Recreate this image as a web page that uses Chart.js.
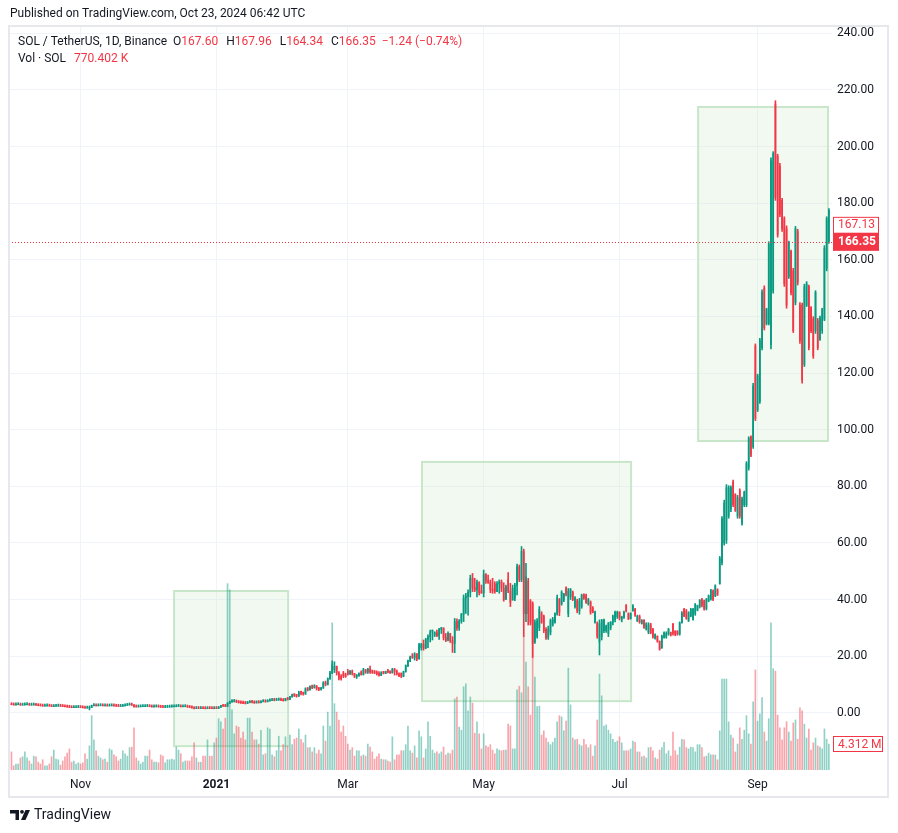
<!DOCTYPE html>
<html>
<head>
<meta charset="utf-8">
<script src="https://cdn.jsdelivr.net/npm/chart.js@4.4.1/dist/chart.umd.min.js"></script>
<style>
  html, body { margin: 0; padding: 0; background: #fff; }
  canvas { display: block; }
</style>
</head>
<body>
<canvas id="chart" width="898" height="833"></canvas>
<script>
// SOL / TetherUS daily candles, one entry per day starting at firstDay
const firstDay = '2020-10-01';

const opens = [
  3.0,2.85,2.75,2.85,2.9,2.7,2.75,2.85,2.9,2.7, 2.75,2.85,2.65,2.5,2.45,2.35,2.4,2.45,2.35,2.2,
  2.3,2.35,2.4,2.3,2.2,2.1,2.0,1.9,1.8,1.85, 1.9,1.95,1.85,1.75,1.65,1.7,1.85,2.5,2.6,2.45,
  2.5,2.55,2.45,2.5,2.4,2.45,2.5,2.4,2.3,2.25, 2.3,2.45,2.6,2.75,2.85,2.7,2.15,2.05,2.1,2.15,
  2.2,2.25,2.3,2.15,2.05,2.1,2.15,2.05,1.95,1.9, 1.95,2.0,2.05,2.1,2.15,2.25,2.3,2.1,2.15,2.2,
  2.0,1.85,1.7,1.5,1.6,1.5,1.6,1.5,1.45,1.6, 1.5,1.45,1.55,1.5,
  1.9,2.4,2.3,2.25,3.3,3.9,4.0,4.1,3.8,3.6, 3.5,3.4,3.3,3.6,3.9,3.7,3.5,3.7,3.6,3.9,
  4.0,3.9,4.2,4.4,4.5,4.4,4.5,4.7,4.5,4.3, 4.9,4.7,5.6,6.3,6.0,5.8,7.2,6.9,6.6,8.4,
  8.1,9.2,8.8,9.5,8.6,8.2,8.7,10.5,10.0,12.0, 14.0,15.2,16.4,14.0,12.2,13.8,13.1,14.6,13.6,14.6,
  13.9,12.8,13.0,13.8,13.5,15.2,14.3,15.4,14.4,14.2, 14.0,13.6,13.2,14.1,13.9,14.5,14.3,14.1,15.3,14.6,
  13.7,
  13.9,12.9,14.4,16.6,18.3,19.7,19.4,20.8,19.0,23.0, 24.2,22.8,25.9,26.8,28.5,27.5,28.3,27.2,29.4,29.9,
  26.5,25.6,28.0,25.5,24.5,32.2,30.0,32.4,34.7,40.5, 41.0,42.5,47.5,44.0,43.5,46.0,42.5,42.3,48.8,46.8,
  46.0,43.5,45.5,42.8,45.5,46.2,44.0,40.0,47.0,43.0, 39.8,40.5,45.0,51.5,47.0,57.0,35.0,46.5,39.5,38.5,
  25.0,27.0,30.0,35.0,34.0,29.5,26.5,28.5,31.0,32.0, 35.0,40.0,38.5,40.0,44.0,35.0,41.0,42.5,37.5,39.5,
  36.0,37.5,41.8,41.5,38.5,39.0,37.0,32.0,31.5,25.0, 27.0,29.0,29.0,28.0,30.0,32.0,33.0,34.0,35.5,33.0,
  33.8,38.0,35.0,33.2,36.0,36.5,32.5,34.0,31.5,32.6, 29.5,28.5,31.0,29.5,26.3,27.0,25.2,23.0,26.5,26.8,
  27.8,28.3,31.2,28.8,28.8,27.8,31.8,36.5,36.0,32.6, 34.2,33.0,35.0,36.3,37.5,40.0,39.5,36.8,39.5,40.2,
  43.0,41.3,43.5,45.6,53.0,60.0,61.0,69.5,72.0,81.5, 77.0,69.5,78.5,67.0,73.5,73.5,86.5,97.5,94.0,129.5,
  107.0,110.0,129.0,150.0,137.5,137.5,130.0,149.0,215.0,196.5, 193.0,181.0,174.5,171.0,154.0,163.0,156.0,145.0,170.0,144.0,
  144.0,123.0,144.0,150.5,143.0,139.0,135.0,138.5,132.0,135.0, 139.0,157.0,166.5
];

const highs = [
  3.05,2.9,2.9,2.95,2.92,2.8,2.9,2.95,2.9,2.8, 2.9,2.85,2.7,2.55,2.5,2.45,2.5,2.5,2.4,2.35,
  2.4,2.45,2.4,2.35,2.25,2.15,2.05,1.95,1.9,1.95, 2.0,1.95,1.9,1.8,1.75,1.9,2.7,2.7,2.65,2.6,
  2.6,2.6,2.55,2.55,2.5,2.55,2.55,2.45,2.35,2.35, 2.5,2.65,2.8,2.95,2.9,2.75,2.2,2.15,2.2,2.25,
  2.3,2.35,2.35,2.2,2.15,2.2,2.2,2.1,2.0,2.0, 2.05,2.1,2.15,2.2,2.3,2.4,2.3,2.2,2.25,2.2,
  2.05,1.9,1.75,1.65,1.65,1.65,1.65,1.55,1.65,1.65, 1.55,1.6,1.6,2.0,
  2.5,2.6,2.5,3.6,4.1,4.2,4.3,4.2,3.9,3.8, 3.7,3.5,3.8,4.0,4.0,3.8,3.9,3.8,4.0,4.1,
  4.1,4.4,4.6,4.6,4.6,4.6,4.8,4.8,4.6,5.1, 5.2,5.8,6.6,6.7,6.4,7.6,7.5,7.2,8.8,8.9,
  9.5,9.8,9.9,9.6,8.9,8.9,11.0,11.2,12.3,14.6, 18.3,18.0,16.5,14.5,13.5,14.6,14.0,15.3,15.0,15.1,
  13.9,13.3,14.1,14.8,15.7,15.3,15.7,16.5,15.1,14.9, 14.8,14.5,14.5,14.6,14.7,15.3,14.7,15.7,15.7,15.1,
  14.1,
  14.1,14.7,16.9,18.6,20.0,20.9,21.2,20.9,24.5,24.5, 25.7,26.3,27.5,29.2,29.2,28.6,29.2,29.8,30.1,30.0,
  28.0,28.6,28.0,26.9,33.3,33.2,32.9,35.1,41.6,42.2, 43.4,48.6,49.2,47.5,46.9,46.3,45.1,50.4,49.2,48.6,
  46.9,47.5,46.3,46.3,46.9,46.9,45.9,45.1,49.5,45.7, 45.1,45.7,52.5,52.2,58.7,57.8,52.8,47.5,40.0,39.2,
  32.8,33.3,37.5,35.7,34.5,30.1,30.6,33.1,33.7,35.3, 41.6,40.4,43.1,42.2,44.5,43.9,43.9,43.0,41.0,40.1,
  40.4,41.9,42.0,41.9,40.4,39.5,37.5,35.9,32.1,32.8, 33.0,33.1,31.0,31.9,32.2,34.5,35.9,35.9,35.7,34.1,
  35.9,38.2,35.3,35.3,38.2,36.9,34.5,34.5,32.9,32.9, 31.8,31.8,31.6,29.8,27.9,27.2,25.4,27.4,28.6,28.6,
  29.8,28.5,31.6,29.0,29.0,32.1,35.7,36.9,36.5,35.7, 36.9,36.9,38.6,38.0,40.0,40.4,39.8,40.4,41.6,43.6,
  43.4,45.2,43.8,55.2,69.3,75.1,80.6,80.2,80.2,82.2, 77.4,76.8,79.1,76.2,78.3,88.7,97.5,97.8,116.4,130.3,
  119.6,132.3,149.4,150.8,142.9,166.4,196.0,198.2,216.2,197.3, 194.1,181.7,175.2,172.0,166.6,163.4,157.0,171.8,170.8,144.9,
  144.7,151.4,152.3,151.1,143.5,139.9,149.1,139.3,140.1,142.9, 165.0,175.2,178.1
];

const lows = [
  2.8,2.7,2.7,2.8,2.65,2.65,2.7,2.8,2.65,2.65, 2.7,2.6,2.45,2.4,2.3,2.3,2.35,2.3,2.15,2.15,
  2.25,2.3,2.25,2.15,2.05,1.95,1.85,1.75,1.75,1.8, 1.85,1.8,1.7,1.6,1.6,1.0,1.8,2.4,2.4,2.4,
  2.45,2.4,2.4,2.35,2.35,2.4,2.35,2.25,2.2,2.2, 2.25,2.4,2.55,2.7,2.6,1.95,2.0,2.0,2.05,2.1,
  2.15,2.2,2.1,2.0,2.0,2.05,2.0,1.9,1.85,1.85, 1.9,1.95,2.0,2.05,2.1,2.2,2.05,2.05,2.1,1.95,
  1.8,1.65,1.35,1.45,1.45,1.45,1.45,1.35,1.4,1.45, 1.4,1.4,1.45,1.5,
  1.85,2.2,2.15,2.2,3.2,3.6,3.8,3.6,3.4,3.3, 3.2,3.1,3.2,3.5,3.5,3.3,3.4,3.4,3.5,3.8,
  3.7,3.8,4.1,4.3,4.2,4.3,4.4,4.3,4.1,4.2, 4.5,4.6,5.5,5.7,5.5,5.8,6.3,6.2,6.5,7.7,
  8.0,8.5,8.7,8.0,7.8,8.0,8.6,9.5,9.8,11.8, 13.8,14.2,13.3,11.6,11.5,12.4,12.5,13.3,13.5,13.3,
  12.4,12.1,12.9,13.3,13.3,13.9,13.9,13.9,13.9,13.8, 13.3,12.9,13.1,13.7,13.8,14.1,13.9,14.0,13.3,13.3,
  12.7,
  12.4,12.7,14.4,16.3,18.0,19.2,18.6,18.4,18.9,22.1, 22.1,22.6,23.0,25.0,25.7,26.9,26.9,25.9,28.0,25.7,
  25.1,25.4,24.8,21.3,21.2,29.1,29.1,31.6,32.2,35.1, 34.5,40.9,42.8,42.8,40.9,41.6,42.2,40.9,45.7,45.7,
  42.4,42.2,42.2,42.8,42.2,42.8,39.4,40.0,42.4,37.5, 39.8,39.6,41.6,46.3,46.3,26.9,32.2,31.0,31.0,19.5,
  24.5,26.3,29.0,31.6,28.3,25.9,25.9,27.5,30.6,31.6, 34.5,34.3,38.0,39.2,41.3,33.9,40.0,39.6,36.9,35.3,
  34.8,36.9,40.0,38.6,38.0,34.8,35.3,31.6,26.3,20.4, 25.7,28.3,28.4,26.9,29.3,31.0,32.1,33.3,32.8,32.1,
  33.3,35.6,32.9,33.1,35.9,34.0,32.2,31.6,31.3,29.8, 29.2,27.9,27.9,26.3,26.0,24.9,22.1,22.7,26.3,26.3,
  27.4,27.1,27.4,27.2,27.4,27.4,31.6,33.9,33.0,32.2, 33.9,32.7,34.4,36.0,37.0,37.4,36.2,36.3,39.2,39.8,
  39.6,41.0,41.4,45.4,52.2,59.2,59.8,68.7,71.0,72.8, 71.1,68.7,68.7,66.3,72.8,72.8,85.7,90.5,93.4,103.2,
  106.4,109.3,128.2,135.2,137.0,137.0,128.5,148.2,181.0,168.0, 175.2,170.0,150.6,142.9,153.4,147.6,134.3,144.1,151.1,130.5,
  116.4,122.3,143.5,128.2,134.3,125.2,134.0,128.2,131.5,134.0, 138.5,156.1,165.8
];

const closes = [
  2.85,2.75,2.85,2.9,2.7,2.75,2.85,2.9,2.7,2.75, 2.85,2.65,2.5,2.45,2.35,2.4,2.45,2.35,2.2,2.3,
  2.35,2.4,2.3,2.2,2.1,2.0,1.9,1.8,1.85,1.9, 1.95,1.85,1.75,1.65,1.7,1.85,2.5,2.6,2.45,2.5,
  2.55,2.45,2.5,2.4,2.45,2.5,2.4,2.3,2.25,2.3, 2.45,2.6,2.75,2.85,2.7,2.15,2.05,2.1,2.15,2.2,
  2.25,2.3,2.15,2.05,2.1,2.15,2.05,1.95,1.9,1.95, 2.0,2.05,2.1,2.15,2.25,2.3,2.1,2.15,2.2,2.0,
  1.85,1.7,1.5,1.6,1.5,1.6,1.5,1.45,1.6,1.5, 1.45,1.55,1.5,1.9,
  2.4,2.3,2.25,3.3,3.9,4.0,4.1,3.8,3.6,3.5, 3.4,3.3,3.6,3.9,3.7,3.5,3.7,3.6,3.9,4.0,
  3.9,4.2,4.4,4.5,4.4,4.5,4.7,4.5,4.3,4.9, 4.7,5.6,6.3,6.0,5.8,7.2,6.9,6.6,8.4,8.1,
  9.2,8.8,9.5,8.6,8.2,8.7,10.5,10.0,12.0,14.0, 17.0,16.4,14.0,12.2,12.0,13.1,12.8,13.6,14.6,13.9,
  12.8,13.0,13.8,13.5,15.2,14.3,15.4,14.4,14.2,14.0, 13.6,13.2,14.1,13.9,14.5,14.3,14.1,15.3,14.6,13.7,
  13.0,
  12.9,14.4,16.6,18.3,19.7,19.4,20.8,19.0,24.0,24.2, 22.8,25.9,26.8,28.5,28.9,28.3,27.2,29.4,29.9,26.5,
  25.6,28.0,25.5,24.5,32.2,30.0,32.4,34.7,40.5,41.0, 42.5,47.5,44.0,43.5,46.0,42.5,42.3,48.8,46.8,46.0,
  43.5,43.0,42.8,45.5,46.2,44.0,40.0,44.5,43.0,39.0, 44.0,45.0,51.5,47.0,57.0,35.0,48.0,35.0,32.0,24.5,
  31.8,32.5,36.5,32.0,29.0,26.5,29.5,32.5,33.0,35.0, 40.5,35.5,42.5,41.8,41.8,43.0,43.5,40.0,40.5,36.0,
  39.5,41.5,40.5,39.0,40.0,35.5,35.5,35.5,27.0,31.5, 32.5,32.8,30.5,31.5,32.0,34.0,35.5,35.5,33.5,33.8,
  35.5,36.0,33.2,35.0,37.8,34.5,34.0,32.0,32.6,30.2, 31.5,31.0,28.3,26.8,27.6,25.3,22.5,27.0,28.2,28.0,
  29.5,27.4,28.0,27.6,27.8,31.8,35.2,34.2,33.4,35.3, 36.5,36.5,38.2,37.8,39.7,38.0,36.8,40.0,41.3,43.2,
  40.0,44.8,41.8,54.5,68.5,74.0,79.5,79.5,79.5,73.5, 71.5,76.0,69.5,75.5,77.8,88.0,97.0,91.0,115.5,104.0,
  119.0,131.5,148.5,136.0,142.5,165.5,195.0,197.5,182.0,169.0, 176.0,171.0,151.5,144.0,166.0,148.5,135.0,171.0,152.0,131.5,
  117.5,150.5,151.5,129.0,135.0,126.0,148.5,129.0,139.5,142.5, 164.0,174.5,177.5
];

// daily volume, millions of SOL
const volumes = [
  3.0,0.7,1.0,1.0,2.0,2.2,3.0,2.0,1.5,1.0, 2.3,2.2,1.3,1.0,1.7,0.7,0.7,1.0,2.2,3.3,
  1.8,1.7,0.8,1.5,2.2,2.8,3.5,1.3,1.5,1.0, 1.2,1.0,1.2,2.7,1.8,4.0,9.0,5.0,3.2,2.3,
  2.0,1.7,1.8,1.3,3.5,3.3,2.5,2.2,1.5,1.8, 3.2,2.7,2.3,3.7,3.8,7.0,2.0,1.5,1.0,1.3,
  2.3,2.3,3.3,1.7,1.3,1.3,1.2,2.5,2.3,1.2, 1.7,1.7,1.8,1.7,3.8,3.3,2.7,1.3,1.5,1.5,
  1.5,2.2,4.5,2.0,1.3,1.3,2.3,2.3,5.0,2.3, 2.3,4.5,5.3,8.5,
  8.0,6.8,8.6,30.9,29.9,10.0,6.0,7.3,7.1,5.3, 6.3,5.0,8.6,8.6,6.3,5.0,5.0,4.3,6.6,2.5,
  2.7,7.0,6.8,2.5,2.2,3.2,5.6,3.2,4.2,5.5, 4.0,5.8,4.2,5.1,5.3,6.8,5.1,4.5,5.8,3.7,
  3.7,3.0,3.7,2.7,3.3,2.7,7.3,4.8,9.6,7.3, 24.4,11.0,9.6,8.3,6.3,7.3,5.6,4.3,3.3,3.7,
  2.3,3.2,3.2,2.3,2.5,2.3,4.3,3.8,3.0,1.8, 2.2,2.7,1.8,1.7,1.7,1.5,1.3,5.5,1.7,2.5,
  2.5,
  3.2,3.2,4.2,7.3,3.2,2.8,4.0,2.0,6.5,5.5, 2.0,3.5,8.0,5.6,3.3,2.8,3.0,2.7,3.0,3.8,
  2.5,2.8,2.7,3.3,11.8,12.1,7.1,6.6,13.8,14.3, 9.8,12.1,11.1,6.1,8.0,6.0,3.5,6.0,4.0,3.8,
  4.2,3.3,2.7,3.5,3.3,3.2,3.3,3.3,7.6,7.3, 3.5,3.5,13.3,13.9,12.8,22.1,17.9,13.8,9.1,25.7,
  15.4,10.5,10.6,5.8,6.5,5.3,4.6,4.2,4.6,5.3, 8.0,9.0,8.8,6.5,8.1,16.9,10.8,5.3,5.0,5.1,
  4.2,4.0,5.1,4.2,3.7,4.2,2.3,4.0,8.3,15.9, 12.3,7.3,7.5,6.6,6.0,5.1,4.6,4.8,5.5,4.5,
  3.2,3.2,3.2,3.5,4.8,4.6,3.0,3.0,2.2,2.3, 2.0,3.7,3.8,3.2,2.0,1.8,3.3,3.7,4.6,2.7,
  3.2,2.3,6.3,3.2,2.5,3.8,5.1,5.0,3.7,3.5, 3.8,3.7,3.0,4.2,4.2,3.7,2.2,2.3,2.8,2.5,
  2.5,2.5,1.7,6.5,15.1,15.1,15.1,8.0,5.8,5.3, 3.0,4.3,7.0,5.1,6.6,9.0,6.0,4.3,11.3,16.6,
  8.1,9.3,12.0,6.3,4.8,8.5,24.4,16.8,16.4,9.1, 7.0,5.0,7.0,8.0,6.3,4.8,7.8,8.3,5.1,10.3,
  9.8,7.6,5.3,6.8,3.3,4.5,5.3,4.0,3.8,3.5, 6.8,5.1,4.312
];

const tickDates = ['2020-11-01','2021-01-01','2021-03-01','2021-05-01','2021-07-01','2021-09-01'];
const tickLabels = ['Nov','2021','Mar','May','Jul','Sep'];
const priceTicks = [0,20,40,60,80,100,120,140,160,180,200,220,240];

const lastPrice = 166.35;
const markPrice = 167.13;
const quote = { o: '167.60', h: '167.96', l: '164.34', c: '166.35', chg: '\u22121.24 (\u22120.74%)', vol: '770.402 K' };

// highlighted ranges: day index span and price span
const zones = [
  { from: 73.0,  to: 124.2, top: 43.0,  bottom: -11.8 },
  { from: 184.3, to: 278.2, top: 88.6,  bottom: 4.1 },
  { from: 308.3, to: 366.6, top: 214.0, bottom: 96.0 }
];

const UP = '#089981', DOWN = '#f23645';
const UP_VOL = 'rgba(8,153,129,0.45)', DOWN_VOL = 'rgba(242,54,69,0.45)';
const FONT = "Roboto, 'Noto Sans', 'DejaVu Sans', sans-serif";
const TXT = '#131722';

const dayMs = 864e5;
const dayIndex = d => Math.round((Date.parse(d) - Date.parse(firstDay)) / dayMs);
const tickIdx = tickDates.map(dayIndex);

const days = closes.map((_, i) => i);
const isUp = days.map(i => closes[i] >= opens[i]);
const candleColors = isUp.map(u => u ? UP : DOWN);
const volColors = isUp.map(u => u ? UP_VOL : DOWN_VOL);

const bgPlugin = {
  id: 'bg',
  beforeDraw(ch) {
    const g = ch.ctx;
    g.save();
    g.fillStyle = '#fff';
    g.fillRect(0, 0, ch.width, ch.height);
    g.restore();
  }
};

const zonePlugin = {
  id: 'zones',
  beforeDatasetsDraw(ch) {
    const g = ch.ctx, xs = ch.scales.x, ys = ch.scales.y;
    g.save();
    zones.forEach(z => {
      const x0 = xs.getPixelForValue(z.from), x1 = xs.getPixelForValue(z.to);
      const y0 = ys.getPixelForValue(z.top), y1 = ys.getPixelForValue(z.bottom);
      g.fillStyle = 'rgba(200,230,201,0.25)';
      g.fillRect(x0, y0, x1 - x0, y1 - y0);
      g.strokeStyle = '#c8e6c9';
      g.lineWidth = 2;
      g.strokeRect(x0, y0, x1 - x0, y1 - y0);
    });
    g.restore();
  }
};

const priceLinePlugin = {
  id: 'priceLine',
  afterDatasetsDraw(ch) {
    const g = ch.ctx, a = ch.chartArea;
    const y = Math.round(ch.scales.y.getPixelForValue(lastPrice)) + 0.5;
    g.save();
    g.strokeStyle = DOWN;
    g.lineWidth = 1;
    g.setLineDash([1, 2]);
    g.beginPath();
    g.moveTo(a.left, y);
    g.lineTo(a.right, y);
    g.stroke();
    g.restore();
  }
};

function drawRun(g, x, y, parts) {
  parts.forEach(([t, col, gap]) => {
    g.fillStyle = col;
    g.fillText(t, x, y);
    x += g.measureText(t).width + (gap || 0);
  });
}

const overlayPlugin = {
  id: 'overlay',
  afterDraw(ch) {
    const g = ch.ctx;
    const ys = ch.scales.y, vs = ch.scales.v;
    g.save();

    // pane frame
    g.strokeStyle = '#e6e8ee';
    g.lineWidth = 2;
    g.strokeRect(9, 26, 879, 771);

    // header
    g.font = '12px ' + FONT;
    g.textBaseline = 'middle';
    g.fillStyle = TXT;
    g.fillText('Published on TradingView.com, Oct 23, 2024 06:42 UTC', 10, 14);

    // legend
    g.font = '12px ' + FONT;
    drawRun(g, 18, 42, [
      ['SOL / TetherUS, 1D, Binance', TXT, 6],
      ['O', TXT, 0], [quote.o, DOWN, 8],
      ['H', TXT, 0], [quote.h, DOWN, 8],
      ['L', TXT, 0], [quote.l, DOWN, 8],
      ['C', TXT, 0], [quote.c, DOWN, 6],
      [quote.chg, DOWN, 0]
    ]);
    drawRun(g, 18, 59, [['Vol \u00B7 SOL', TXT, 8], [quote.vol, DOWN, 0]]);

    // price labels on the axis
    const yMark = ys.getPixelForValue(lastPrice);
    g.font = '12px ' + FONT;
    g.fillStyle = '#fff';
    g.fillRect(833, yMark - 25, 46, 17);
    g.strokeStyle = DOWN;
    g.lineWidth = 1;
    g.strokeRect(833.5, yMark - 24.5, 45, 16);
    g.fillStyle = DOWN;
    g.fillText(markPrice.toFixed(2), 838, yMark - 16.5);

    g.fillStyle = DOWN;
    g.fillRect(833, yMark - 9, 46, 18);
    g.fillStyle = '#fff';
    g.font = 'bold 12px ' + FONT;
    g.fillText(lastPrice.toFixed(2), 838, yMark);

    // last volume label
    const lastVol = volumes[volumes.length - 1];
    const yVol = vs.getPixelForValue(lastVol);
    g.font = '12px ' + FONT;
    g.fillStyle = '#fff';
    g.fillRect(833, yVol - 8, 50, 16);
    g.strokeStyle = DOWN;
    g.strokeRect(833.5, yVol - 7.5, 49, 15);
    g.fillStyle = DOWN;
    g.fillText(lastVol.toFixed(3) + ' M', 838, yVol + 0.5);

    // bottom brand
    g.fillStyle = TXT;
    g.beginPath();
    g.moveTo(10, 810); g.lineTo(19, 810); g.lineTo(19, 820); g.lineTo(15.5, 820);
    g.lineTo(15.5, 813.5); g.lineTo(10, 813.5); g.closePath();
    g.fill();
    g.beginPath();
    g.arc(22, 811.8, 1.9, 0, Math.PI * 2);
    g.fill();
    g.beginPath();
    g.moveTo(25.5, 810); g.lineTo(30, 810); g.lineTo(25.5, 820); g.lineTo(21, 820); g.closePath();
    g.fill();
    g.font = '14px ' + FONT;
    g.fillText('TradingView', 34, 815.5);

    g.restore();
  }
};

new Chart(document.getElementById('chart'), {
  type: 'bar',
  data: {
    datasets: [
      {
        label: 'body',
        data: days.map(i => ({ x: i, y: [opens[i], closes[i]] })),
        backgroundColor: candleColors,
        barThickness: 1,
        minBarLength: 2,
        grouped: false,
        yAxisID: 'y',
        order: 0
      },
      {
        label: 'wick',
        data: days.map(i => ({ x: i, y: [lows[i], highs[i]] })),
        backgroundColor: candleColors,
        barThickness: 1,
        grouped: false,
        yAxisID: 'y',
        order: 1
      },
      {
        label: 'volume',
        data: days.map(i => ({ x: i, y: volumes[i] })),
        backgroundColor: volColors,
        barThickness: 1,
        grouped: false,
        yAxisID: 'v',
        order: 2
      }
    ]
  },
  options: {
    responsive: false,
    animation: false,
    layout: { padding: { left: 9, top: 26, right: 10, bottom: 36 } },
    plugins: { legend: { display: false }, tooltip: { enabled: false } },
    scales: {
      x: {
        type: 'linear',
        min: -1.12,
        max: 368.4,
        offset: false,
        grid: { color: '#f0f3fa', offset: false, drawTicks: false },
        border: { display: false },
        afterBuildTicks: s => { s.ticks = tickIdx.map(v => ({ value: v })); },
        afterFit: s => { s.height = 27; },
        ticks: {
          padding: 8,
          autoSkip: false,
          maxRotation: 0,
          color: TXT,
          font: c => ({ size: 12, family: FONT, weight: (c.tick && c.tick.label === '2021') ? 'bold' : 'normal' }),
          callback: v => tickLabels[tickIdx.indexOf(v)]
        }
      },
      y: {
        position: 'right',
        min: -20.23,
        max: 242.6,
        grid: { color: '#f0f3fa', drawTicks: false },
        border: { display: false },
        afterBuildTicks: s => { s.ticks = priceTicks.map(v => ({ value: v })); },
        afterFit: s => { s.width = 56; },
        ticks: { padding: 5, color: TXT, font: { size: 12, family: FONT }, callback: v => v.toFixed(2) }
      },
      v: { display: false, min: 0, max: 123.4 }
    }
  },
  plugins: [bgPlugin, zonePlugin, priceLinePlugin, overlayPlugin]
});
</script>
</body>
</html>
